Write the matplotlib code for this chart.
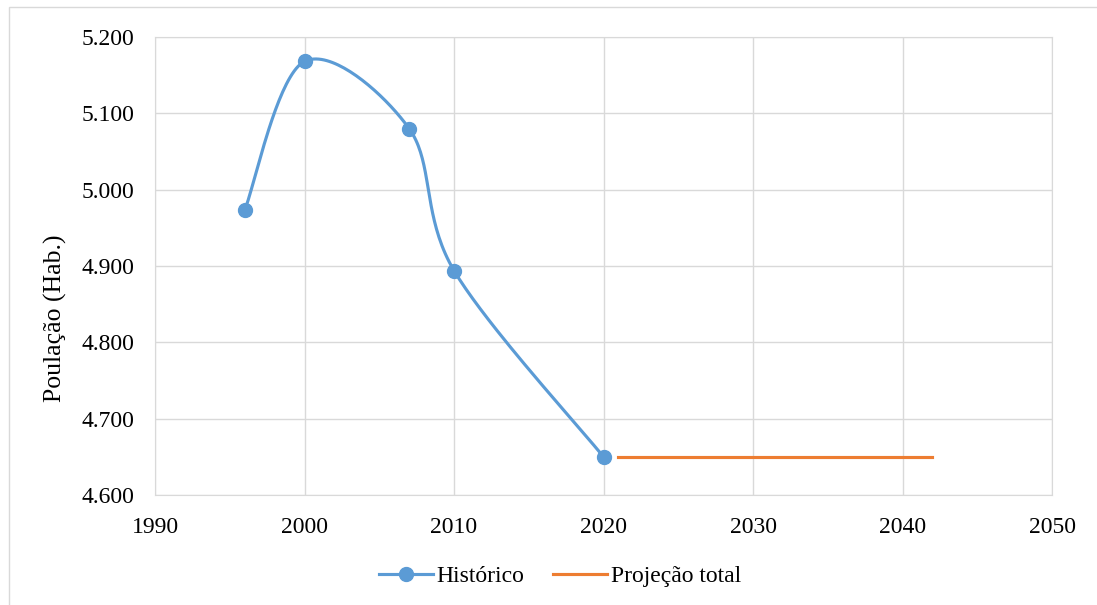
import matplotlib.pyplot as plt
from matplotlib.patches import Rectangle
from matplotlib.ticker import FuncFormatter
import numpy as np

plt.rcParams['font.family'] = ['Liberation Serif', 'DejaVu Serif']

# dados
anos_hist = [1996, 2000, 2007, 2010, 2020]
pop_hist = [4973, 5168, 5080, 4894, 4650]
anos_proj = [2021, 2042]
pop_proj = [4650, 4650]

azul = '#5B9BD5'
laranja = '#ED7D31'

W, H = 1097, 605
L, R, T, B = 155, 1052, 37, 495
fig = plt.figure(figsize=(W / 100, H / 100), dpi=100)
ax = fig.add_axes([L / W, 1 - B / H, (R - L) / W, (B - T) / H])

# moldura da area do grafico
fig.patches.append(Rectangle((9 / W, -0.1), 1.2, 1 - 7 / H + 0.1, transform=fig.transFigure,
                             fill=False, edgecolor='#D9D9D9', linewidth=1))

ax.set_xlim(1990, 2050)
ax.set_ylim(4600, 5200)


def suavizar(xs, ys, n=40):
    # curva suavizada tipo Excel (Catmull-Rom em coordenadas de tela)
    sx = (R - L) / 60.0
    sy = (B - T) / 600.0
    P = np.column_stack([np.array(xs) * sx, np.array(ys) * sy])
    out = []
    for i in range(len(P) - 1):
        p0 = P[i - 1] if i > 0 else P[i]
        p1 = P[i]
        p2 = P[i + 1]
        p3 = P[i + 2] if i + 2 < len(P) else P[i + 1]
        c1 = p1 + (p2 - p0) / 6.0
        c2 = p2 - (p3 - p1) / 6.0
        t = np.linspace(0, 1, n)[:, None]
        seg = (1 - t) ** 3 * p1 + 3 * (1 - t) ** 2 * t * c1 + 3 * (1 - t) * t ** 2 * c2 + t ** 3 * p2
        out.append(seg if i == 0 else seg[1:])
    out = np.vstack(out)
    return out[:, 0] / sx, out[:, 1] / sy


cx, cy = suavizar(anos_hist, pop_hist)
ax.plot(cx, cy, color=azul, linewidth=2.25, zorder=3)
ax.plot(anos_hist, pop_hist, linestyle='none', marker='o', markersize=10, color=azul, zorder=4)
ax.plot(anos_proj, pop_proj, color=laranja, linewidth=2.25, zorder=3)

# legenda
h1, = ax.plot([], [], color=azul, linewidth=2.25, marker='o', markersize=10)
h2, = ax.plot([], [], color=laranja, linewidth=2.25)
fig.legend([h1, h2], ['Histórico', 'Projeção total'], loc='center', bbox_to_anchor=(560 / W, 1 - 576 / H),
           ncol=2, frameon=False, fontsize=17, handlelength=2.3, columnspacing=1.2, handletextpad=0.15)

ax.set_xticks(range(1990, 2051, 10))
ax.set_yticks(range(4600, 5201, 100))
ax.yaxis.set_major_formatter(FuncFormatter(lambda v, p: f'{int(v):,}'.replace(',', '.')))
ax.grid(True, color='#D9D9D9', linewidth=1)
ax.set_axisbelow(True)
for s in ax.spines.values():
    s.set_color('#D9D9D9')
ax.tick_params(axis='y', length=0, labelsize=17, pad=15, colors='black')
ax.tick_params(axis='x', length=0, labelsize=17, pad=16, colors='black')
fig.text(55 / W, 1 - 318 / H, 'Poulação (Hab.)', rotation=90, ha='center', va='center', fontsize=18.5)

fig.savefig('out.png', dpi=100)
